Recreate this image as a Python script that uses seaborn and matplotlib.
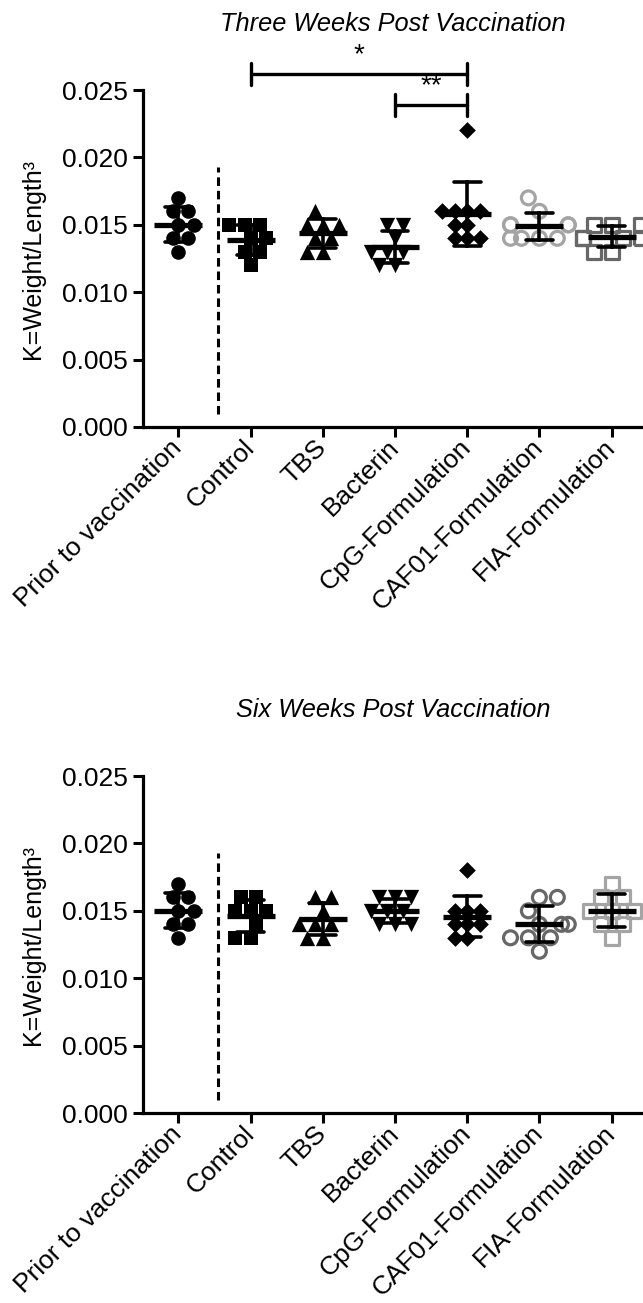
import warnings
import numpy as np
import pandas as pd
import matplotlib
matplotlib.use("Agg")
import matplotlib.pyplot as plt
import seaborn as sns
from matplotlib.ticker import FormatStrFormatter

warnings.filterwarnings("ignore")

sns.set_style("ticks")
plt.rcParams['font.family'] = ['Liberation Sans', 'DejaVu Sans']
plt.rcParams['text.color'] = 'black'
plt.rcParams['axes.labelcolor'] = 'black'
plt.rcParams['xtick.color'] = 'black'
plt.rcParams['ytick.color'] = 'black'

groups = ["Prior to vaccination", "Control", "TBS", "Bacterin",
          "CpG-Formulation", "CAF01-Formulation", "FIA-Formulation"]

# K values (weight/length^3)
prior = [0.017, 0.016, 0.016, 0.015, 0.015, 0.014, 0.014, 0.013]

wk3_control = [0.015, 0.015, 0.015, 0.014, 0.014, 0.013, 0.013, 0.012]
wk3_tbs = [0.016, 0.015, 0.015, 0.015, 0.014, 0.014, 0.013, 0.013]
wk3_bacterin = [0.015, 0.015, 0.014, 0.013, 0.013, 0.013, 0.012, 0.012]
wk3_cpg = [0.022, 0.016, 0.016, 0.016, 0.016, 0.015, 0.015, 0.014, 0.014, 0.014]
wk3_caf01 = [0.017, 0.016, 0.015, 0.015, 0.015, 0.015, 0.014, 0.014, 0.014, 0.014]
wk3_fia = [0.015, 0.015, 0.015, 0.014, 0.014, 0.014, 0.014, 0.013, 0.013]

wk6_control = [0.016, 0.016, 0.015, 0.015, 0.015, 0.014, 0.013, 0.013]
wk6_tbs = [0.016, 0.016, 0.015, 0.014, 0.014, 0.014, 0.013, 0.013]
wk6_bacterin = [0.016, 0.016, 0.016, 0.015, 0.015, 0.015, 0.014, 0.014, 0.014]
wk6_cpg = [0.018, 0.015, 0.015, 0.015, 0.014, 0.014, 0.014, 0.013, 0.013]
wk6_caf01 = [0.016, 0.016, 0.015, 0.014, 0.014, 0.014, 0.013, 0.013, 0.013, 0.012]
wk6_fia = [0.017, 0.016, 0.016, 0.015, 0.015, 0.015, 0.014, 0.014, 0.013]

yticks = [0.000, 0.005, 0.010, 0.015, 0.020, 0.025]

markers = ['o', 's', '^', 'v', 'D', 'o', 's']
sizes = [10.5, 10.5, 11, 11, 8.5, 10, 10]
hollow = [False, False, False, False, False, True, True]


def make_df(values):
    rows = []
    for g, vals in zip(groups, values):
        for v in vals:
            rows.append({"group": g, "k": v})
    return pd.DataFrame(rows)


def draw_panel(ax, df, colors, title):
    # 单个点（每组不同形状）
    for i, g in enumerate(groups):
        sub = df[df["group"] == g]
        n_before = len(ax.collections)
        sns.swarmplot(data=sub, x="group", y="k", order=groups, marker=markers[i],
                      color=colors[i], edgecolor=colors[i], size=sizes[i],
                      linewidth=2.3 if hollow[i] else 0, ax=ax, zorder=3)
        if hollow[i]:
            for coll in ax.collections[n_before:]:
                coll.set_facecolor("none")

    # mean +/- SD
    sns.pointplot(data=df, x="group", y="k", order=groups, estimator="mean",
                  errorbar="sd", color="black", marker="_", markersize=34,
                  markeredgewidth=3.8, linestyle="none", capsize=0.37,
                  err_kws={"linewidth": 2.6, "zorder": 10}, ax=ax, zorder=11)

    # 虚线分隔
    ax.plot([0.55, 0.55], [0.001, 0.0193], color="black", lw=2.2,
            ls=(0, (2.8, 1.6)), zorder=2)

    ax.set_xlim(-0.49, 6.435)
    ax.set_ylim(0, 0.025)
    ax.set_yticks(yticks)
    ax.yaxis.set_major_formatter(FormatStrFormatter('%.3f'))
    ax.set_xticks(range(len(groups)))
    ax.set_xticklabels(groups, rotation=45, ha="right", va="center",
                       rotation_mode="anchor", fontsize=19)
    ax.set_xlabel("")
    ax.set_ylabel("K=Weight/Length³", fontsize=18)
    ax.yaxis.set_label_coords(-0.196, 0.5)
    ax.tick_params(axis="y", labelsize=19)
    ax.tick_params(axis="both", width=2.2, length=7, pad=4, color="black")
    ax.tick_params(axis="x", pad=5)
    for s in ["top", "right"]:
        ax.spines[s].set_visible(False)
    for s in ["left", "bottom"]:
        ax.spines[s].set_linewidth(2.3)
        ax.spines[s].set_color("black")
    ax.text(0.5, 1.175, title, transform=ax.transAxes, ha="center",
            va="baseline", fontsize=18.3, fontstyle="italic")


fig = plt.figure(figsize=(6.43, 13.03), dpi=100)
ax1 = fig.add_axes([0.2224, 0.6723, 0.7776, 0.2586])
ax2 = fig.add_axes([0.2224, 0.1458, 0.7776, 0.2586])

df3 = make_df([prior, wk3_control, wk3_tbs, wk3_bacterin, wk3_cpg, wk3_caf01, wk3_fia])
df6 = make_df([prior, wk6_control, wk6_tbs, wk6_bacterin, wk6_cpg, wk6_caf01, wk6_fia])

col3 = ["black"] * 5 + ["#a4a4a4", "#676767"]
col6 = ["black"] * 5 + ["#676767", "#a4a4a4"]

draw_panel(ax1, df3, col3, "Three Weeks Post Vaccination")
draw_panel(ax2, df6, col6, "Six Weeks Post Vaccination")

# 显著性标注
brackets = [(1, 4, 0.0262, "*"), (3, 4, 0.0239, "**")]
for x0, x1, y, lab in brackets:
    ax1.plot([x0, x1], [y, y], color="black", lw=2.4, clip_on=False)
    for xx in (x0, x1):
        ax1.plot([xx, xx], [y - 0.0008, y + 0.0008], color="black", lw=2.4,
                 clip_on=False)
    ax1.text((x0 + x1) / 2, y + 0.0004, lab, ha="center", va="bottom",
             fontsize=20, clip_on=False)

fig.savefig("out.png", dpi=100)
